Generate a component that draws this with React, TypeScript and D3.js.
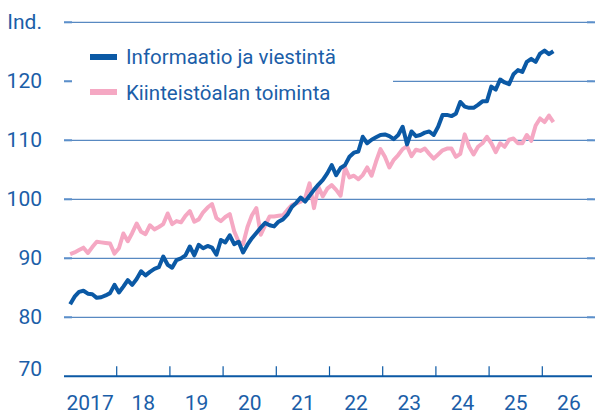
import React from "react";
import * as d3 from "d3";

// Monthly data, Feb 2017 – Mar 2026 (index m = months since Jan 2017, starting at 1)
const startMonth = 1;
const infoValues = [
  82.2, 83.5, 84.3, 84.5, 84.0, 83.9, 83.3, 83.4, 83.7, 84.1, 85.5, 84.2,
  85.2, 86.3, 85.5, 86.5, 87.8, 87.1, 87.7, 88.2, 88.5, 90.3, 88.9, 88.4,
  89.7, 90.0, 90.5, 92.0, 90.5, 92.3, 91.7, 92.1, 91.8, 90.6, 93.1, 92.7,
  93.9, 92.4, 92.8, 91.0, 92.3, 93.4, 94.3, 95.2, 96.0, 95.6, 95.4, 96.2,
  96.6, 97.4, 98.7, 99.4, 100.3, 99.6, 100.6, 101.6, 102.5, 103.3, 104.4, 105.8,
  104.1, 105.3, 105.8, 107.2, 107.9, 108.1, 110.6, 109.5, 110.1, 110.5, 110.9, 111.0,
  110.7, 110.2, 110.9, 112.3, 109.3, 111.5, 110.7, 110.9, 111.3, 111.5, 110.9, 112.3,
  114.3, 114.3, 114.1, 114.5, 116.5, 115.7, 115.5, 115.5, 116.0, 116.6, 116.6, 119.1,
  118.6, 120.3, 119.8, 119.5, 121.2, 121.9, 121.6, 123.3, 123.8, 123.3, 124.7, 125.2,
  124.6, 125.1,
];
const realEstateValues = [
  90.7, 91.0, 91.4, 91.8, 90.9, 91.9, 92.8, 92.7, 92.6, 92.5, 90.8, 91.7,
  94.2, 92.9, 94.3, 95.9, 94.5, 94.1, 95.6, 94.9, 95.3, 95.8, 97.6, 95.8,
  96.3, 96.1, 97.2, 98.0, 96.2, 96.6, 97.8, 98.6, 99.2, 96.8, 96.3, 97.0,
  97.5, 94.6, 92.8, 92.4, 95.3, 97.3, 98.5, 94.0, 95.6, 97.1, 97.1, 97.2,
  97.3, 98.2, 99.0, 99.3, 99.6, 100.2, 102.7, 98.5, 102.1, 100.5, 101.8, 102.4,
  101.6, 100.6, 105.4, 103.7, 104.0, 103.4, 104.1, 105.4, 104.0, 106.4, 108.5, 107.2,
  105.4, 106.7, 107.5, 108.5, 109.0, 107.3, 108.4, 108.2, 108.6, 107.7, 106.9, 107.6,
  108.3, 108.6, 108.6, 107.2, 107.7, 111.0, 108.9, 107.6, 108.9, 109.5, 110.6, 109.5,
  108.0, 109.5, 108.9, 110.1, 110.3, 109.5, 109.5, 110.9, 109.9, 112.5, 113.7, 113.1,
  114.2, 113.1,
];
const seriesNames = ["Informaatio ja viestintä", "Kiinteistöalan toiminta"];
const yTicks = [70, 80, 90, 100, 110, 120];
const yearLabels = ["2017", "18", "19", "20", "21", "22", "23", "24", "25", "26"];
const yUnit = "Ind.";

const W = 595;
const H = 414;
const BLUE = "#0b59a5";
const PINK = "#f5a8c3";
const TEXT = "#1b5ea8";
const GRID = "#2f6cb2";
const FONT = "Roboto, 'Noto Sans', sans-serif";

export default function App() {
  const x = d3.scaleLinear().domain([0, 120]).range([63.5, 595.5]);
  const y = d3.scaleLinear().domain([70, 130]).range([376.3, 22.3]);
  const plotLeft = 64;
  const plotRight = 593;

  const line = d3
    .line<number>()
    .x((_, i) => x(startMonth + i + 0.5))
    .y((d) => y(d))
    .curve(d3.curveLinear);

  const gridVals = [80, 90, 100, 110, 120, 130];

  return (
    <svg
      width={W}
      height={H}
      style={{ position: "absolute", left: 0, top: 0, background: "#fff" }}
      fontFamily={FONT}
    >
      {/* gridlines */}
      {gridVals.map((v) => (
        <g key={v}>
          <line x1={plotLeft} x2={plotRight} y1={y(v)} y2={y(v)} stroke={GRID} strokeWidth={1} />
          <line x1={plotLeft} x2={plotLeft + 8} y1={y(v)} y2={y(v)} stroke="#5b8fca" strokeWidth={2} />
          <line x1={plotRight - 6} x2={plotRight + 2} y1={y(v)} y2={y(v)} stroke="#5b8fca" strokeWidth={2} />
        </g>
      ))}

      {/* legend background */}
      <rect x={72} y={38} width={321} height={70} fill="#fff" />

      {/* x axis */}
      <line x1={plotLeft} x2={592} y1={y(70)} y2={y(70)} stroke={BLUE} strokeWidth={2} />
      {d3.range(1, 10).map((i) => (
        <line key={i} x1={x(i * 12)} x2={x(i * 12)} y1={y(70)} y2={y(70) - 10} stroke={BLUE} strokeWidth={1.2} />
      ))}
      {yearLabels.map((lab, i) => (
        <text key={lab} x={x(i * 12 + 6)} y={410} textAnchor="middle" fontSize={21} fill={TEXT}>
          {lab}
        </text>
      ))}

      {/* y labels */}
      {yTicks.map((v) => (
        <text
          key={v}
          x={42}
          y={v === 70 ? y(v) - 7 : y(v)}
          textAnchor="end"
          dominantBaseline="central"
          fontSize={21}
          fill={TEXT}
        >
          {v}
        </text>
      ))}
      <text x={42} y={y(130)} textAnchor="end" dominantBaseline="central" fontSize={21} fill={TEXT}>
        {yUnit}
      </text>

      {/* series */}
      <path d={line(realEstateValues) || ""} fill="none" stroke={PINK} strokeWidth={4} strokeLinejoin="round" />
      <path d={line(infoValues) || ""} fill="none" stroke={BLUE} strokeWidth={4} strokeLinejoin="round" />

      {/* legend */}
      <line x1={90} x2={117} y1={57} y2={57} stroke={BLUE} strokeWidth={6} />
      <text x={126} y={57} dominantBaseline="central" fontSize={20.5} fill={TEXT}>
        {seriesNames[0]}
      </text>
      <line x1={90} x2={117} y1={92} y2={92} stroke={PINK} strokeWidth={6} />
      <text x={126} y={93} dominantBaseline="central" fontSize={20.5} fill={TEXT}>
        {seriesNames[1]}
      </text>
    </svg>
  );
}
